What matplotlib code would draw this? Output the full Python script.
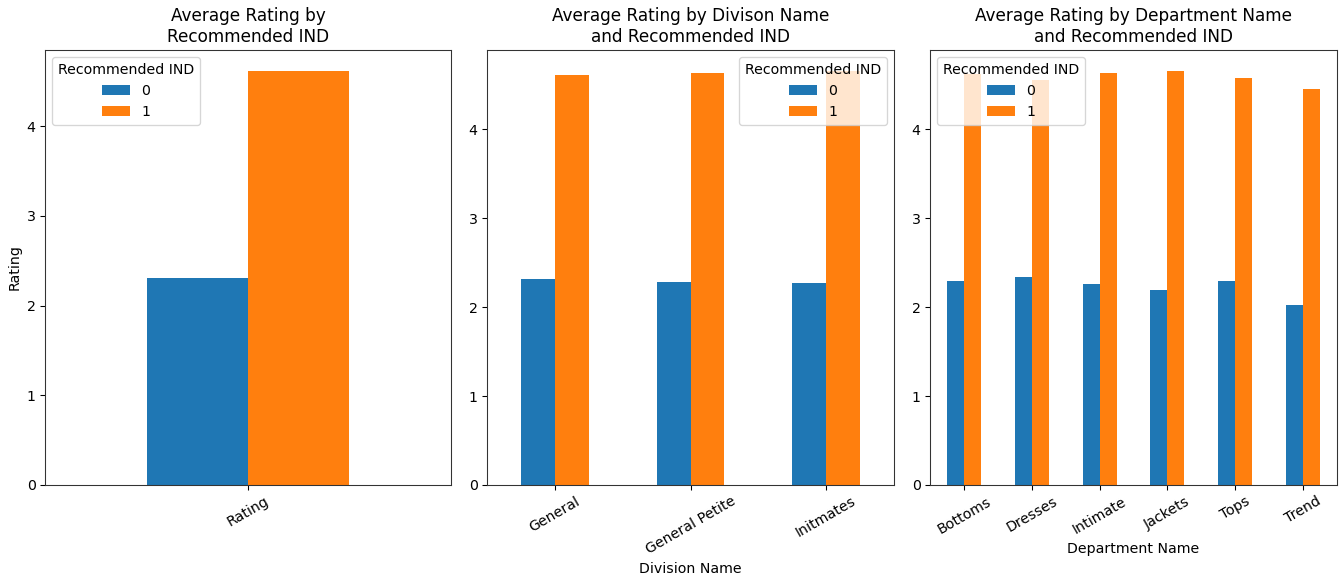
import numpy as np
import matplotlib
matplotlib.use("Agg")
import matplotlib.pyplot as plt

# average rating, split by Recommended IND (0 / 1)
overall_labels = ['Rating']
overall_0 = [2.31]
overall_1 = [4.62]

division_labels = ['General', 'General Petite', 'Initmates']
division_0 = [2.32, 2.28, 2.27]
division_1 = [4.61, 4.63, 4.66]

department_labels = ['Bottoms', 'Dresses', 'Intimate', 'Jackets', 'Tops', 'Trend']
department_0 = [2.30, 2.34, 2.26, 2.19, 2.29, 2.03]
department_1 = [4.62, 4.56, 4.63, 4.66, 4.58, 4.45]

colors = ('#1f77b4', '#ff7f0e')

plt.rcParams['font.size'] = 10.6
plt.rcParams['axes.edgecolor'] = '#333333'

fig = plt.figure(figsize=(1343 / 96, 579 / 96), dpi=96)
W, H = 1343, 579
boxes = [(45, 451), (487, 894), (930, 1337)]
top, bottom = 50, 485
axes = [fig.add_axes([l / W, 1 - bottom / H, (r - l) / W, (bottom - top) / H]) for l, r in boxes]

panels = [
    (overall_labels, overall_0, overall_1, 'Average Rating by\nRecommended IND', None, 'upper left'),
    (division_labels, division_0, division_1, 'Average Rating by Divison Name\nand Recommended IND', 'Division Name', 'upper right'),
    (department_labels, department_0, department_1, 'Average Rating by Department Name\nand Recommended IND', 'Department Name', 'upper left'),
]

width = 0.25
for ax, (labels, v0, v1, title, xlabel, loc) in zip(axes, panels):
    x = np.arange(len(labels))
    ax.bar(x - width / 2, v0, width, color=colors[0], label='0')
    ax.bar(x + width / 2, v1, width, color=colors[1], label='1')
    ax.set_xlim(-0.5, len(labels) - 0.5)
    ax.set_ylim(0, max(v1) * 1.05)
    ax.set_xticks(x)
    ax.set_xticklabels(labels, rotation=30)
    ax.set_yticks([0, 1, 2, 3, 4])
    ax.set_title(title, fontsize=12.7)
    if xlabel:
        ax.set_xlabel(xlabel)
    ax.legend(title='Recommended IND', loc=loc, fontsize=10.6, title_fontsize=10.6)

axes[0].set_ylabel('Rating')

fig.savefig('out.png', dpi=96)
